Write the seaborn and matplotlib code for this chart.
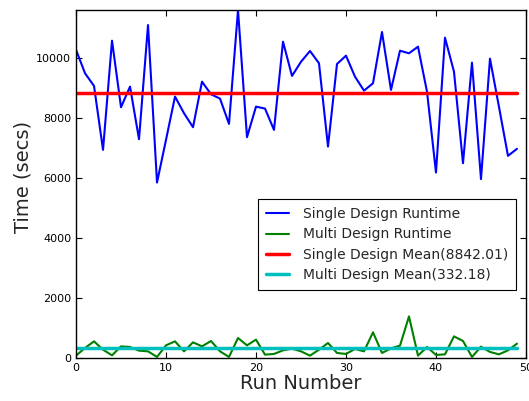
import numpy as np
import pandas as pd
import matplotlib
matplotlib.use("Agg")
import matplotlib.pyplot as plt
import seaborn as sns

runs = list(range(50))
single_runtime = [10275, 9492, 9070, 6939, 10578, 8360, 9047, 7295, 11100, 5851,
                  7275, 8715, 8160, 7695, 9213, 8793, 8647, 7805, 11600, 7362,
                  8381, 8315, 7605, 10545, 9403, 9875, 10235, 9825, 7049, 9802,
                  10078, 9379, 8913, 9160, 10867, 8936, 10245, 10158, 10378, 8880,
                  6185, 10678, 9545, 6495, 9845, 5965, 9978, 8370, 6740, 6975]
multi_runtime = [82, 337, 558, 281, 92, 391, 371, 248, 225, 38,
                 425, 558, 225, 525, 391, 570, 225, 38, 670, 425,
                 615, 115, 138, 258, 315, 225, 82, 281, 503, 171,
                 138, 305, 225, 858, 171, 325, 415, 1390, 82, 371,
                 105, 125, 725, 570, 38, 381, 205, 125, 258, 481]
single_mean = 8842.01
multi_mean = 332.18
labels = ["Single Design Runtime", "Multi Design Runtime",
          "Single Design Mean(8842.01)", "Multi Design Mean(332.18)"]

sns.set_style("ticks")
plt.rcParams["font.family"] = ["DejaVu Sans"]
plt.rcParams["xtick.direction"] = "in"
plt.rcParams["ytick.direction"] = "in"
plt.rcParams["xtick.top"] = True
plt.rcParams["ytick.right"] = True

fig = plt.figure(figsize=(5.29, 4.01), dpi=100)
ax = fig.add_axes([0.1437, 0.107, 0.8506, 0.868])

df = pd.DataFrame({
    "run": runs * 4,
    "value": single_runtime + multi_runtime + [single_mean] * 50 + [multi_mean] * 50,
    "series": [labels[0]] * 50 + [labels[1]] * 50 + [labels[2]] * 50 + [labels[3]] * 50,
})
palette = {labels[0]: "#0000ff", labels[1]: "#008000", labels[2]: "#ff0000", labels[3]: "#00bfbf"}
widths = {labels[0]: 1.5, labels[1]: 1.5, labels[2]: 2.5, labels[3]: 2.5}
for lab in labels:
    sub = df[df["series"] == lab]
    sns.lineplot(data=sub, x="run", y="value", color=palette[lab], lw=widths[lab],
                 label=lab, ax=ax)

ax.set_xlim(0, 50)
ax.set_ylim(0, max(single_runtime))
ax.set_xticks([0, 10, 20, 30, 40, 50])
ax.set_yticks([0, 2000, 4000, 6000, 8000, 10000])
ax.tick_params(labelsize=8, length=4, width=0.8, colors="black")
for s in ax.spines.values():
    s.set_color("black")
    s.set_linewidth(1.0)
ax.set_xlabel("Run Number", fontsize=14, labelpad=1)
ax.set_ylabel("Time (secs)", fontsize=14)
ax.yaxis.set_label_coords(-0.097, 0.52)
leg = ax.legend(loc="lower right", bbox_to_anchor=(0.978, 0.195), borderaxespad=0,
                fontsize=10, fancybox=False, framealpha=1, edgecolor="black",
                handlelength=1.6, handletextpad=1.0, labelspacing=0.45, borderpad=0.6)
leg.get_frame().set_linewidth(0.8)

fig.savefig("out.png", dpi=100)
